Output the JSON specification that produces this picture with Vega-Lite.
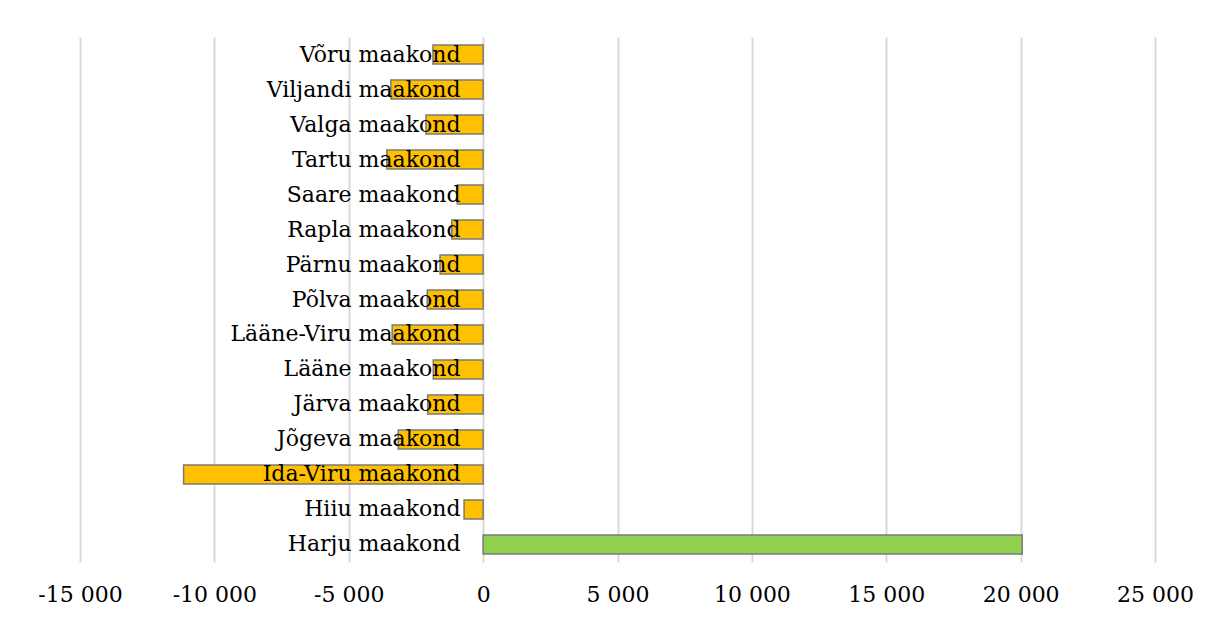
{
  "$schema": "https://vega.github.io/schema/vega-lite/v6.json",
  "autosize": {"type": "none"},
  "padding": {"left": 80, "top": 37, "right": 66, "bottom": 57},
  "width": 1075,
  "height": 525,
  "background": "#ffffff",
  "config": {
    "locale": {"number": {"decimal": ",", "thousands": " ", "grouping": [3], "currency": ["", ""], "minus": "-"}},
    "view": {"stroke": null},
    "font": "DejaVu Serif"
  },
  "data": {
    "values": [
      {"county": "Harju maakond", "value": 20060},
      {"county": "Hiiu maakond", "value": -709},
      {"county": "Ida-Viru maakond", "value": -11146},
      {"county": "Jõgeva maakond", "value": -3160},
      {"county": "Järva maakond", "value": -2063},
      {"county": "Lääne maakond", "value": -1854},
      {"county": "Lääne-Viru maakond", "value": -3384},
      {"county": "Põlva maakond", "value": -2078},
      {"county": "Pärnu maakond", "value": -1604},
      {"county": "Rapla maakond", "value": -1168},
      {"county": "Saare maakond", "value": -959},
      {"county": "Tartu maakond", "value": -3582},
      {"county": "Valga maakond", "value": -2127},
      {"county": "Viljandi maakond", "value": -3433},
      {"county": "Võru maakond", "value": -1866}
    ]
  },
  "mark": {"type": "bar", "stroke": "#7a7a7a", "strokeWidth": 1.5},
  "encoding": {
    "y": {
      "field": "county",
      "type": "nominal",
      "sort": ["Võru maakond", "Viljandi maakond", "Valga maakond", "Tartu maakond", "Saare maakond", "Rapla maakond", "Pärnu maakond", "Põlva maakond", "Lääne-Viru maakond", "Lääne maakond", "Järva maakond", "Jõgeva maakond", "Ida-Viru maakond", "Hiiu maakond", "Harju maakond"],
      "scale": {"paddingInner": 0.457, "paddingOuter": 0.229},
      "axis": {
        "title": null,
        "domain": false,
        "ticks": false,
        "tickSize": 0,
        "grid": false,
        "offset": -403,
        "labelPadding": 23,
        "labelFont": "DejaVu Serif",
        "labelFontSize": 22,
        "labelColor": "#000000",
        "labelLimit": 400,
        "zindex": 1
      }
    },
    "x": {
      "field": "value",
      "type": "quantitative",
      "scale": {"domain": [-15000, 25000], "nice": false, "zero": false},
      "axis": {
        "title": null,
        "values": [-15000, -10000, -5000, 0, 5000, 10000, 15000, 20000, 25000],
        "format": ",d",
        "domain": false,
        "ticks": false,
        "tickSize": 0,
        "grid": true,
        "gridColor": "#d9d9d9",
        "gridWidth": 2,
        "labelPadding": 22,
        "labelFont": "DejaVu Serif",
        "labelFontSize": 22,
        "labelColor": "#000000",
        "labelFlush": false,
        "zindex": 0
      }
    },
    "color": {
      "condition": {"test": "datum.value > 0", "value": "#92D050"},
      "value": "#FFC000"
    }
  }
}
